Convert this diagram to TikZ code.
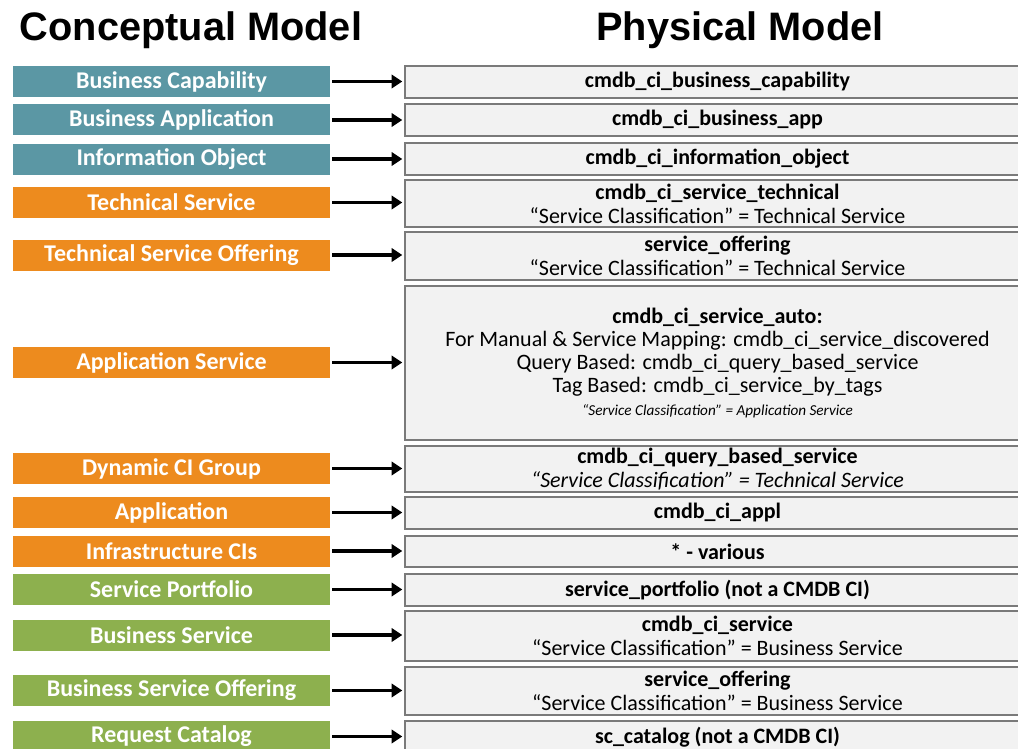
\documentclass[tikz,border=0pt]{standalone}
\usepackage{fontspec}
\setmainfont{Carlito}
\newfontfamily\headfont{Liberation Sans}
\usetikzlibrary{arrows.meta}

\definecolor{capteal}{RGB}{91,151,164}
\definecolor{svcorange}{RGB}{237,139,30}
\definecolor{bizgreen}{RGB}{141,176,78}
\definecolor{tablegray}{RGB}{242,242,242}
\definecolor{edgegray}{RGB}{122,122,122}

\tikzset{
  heading/.style={font=\headfont\bfseries\fontsize{29.8}{32}\selectfont, anchor=base},
  concept/.style={fill=#1, text=white, minimum width=237.75pt, minimum height=23.25pt,
    inner sep=0pt, font=\bfseries\fontsize{18}{20}\selectfont},
  physical/.style={fill=tablegray, draw=edgegray, line width=1.1pt, minimum width=468.75pt,
    minimum height=#1, inner sep=0pt, align=center, font=\fontsize{16.5}{18}\selectfont},
  link/.style={line width=2.8pt, -{Triangle[length=8pt,width=10pt]}, shorten >=1.5pt, shorten <=1.5pt}
}

\begin{document}
\begin{tikzpicture}[x=0.75pt, y=-0.75pt]
\useasboundingbox (0,0) rectangle (1018,749);

% headings
\node[heading] (conhead) at (191,41) {Conceptual Model};
\node[heading] (phyhead) at (740,41) {Physical Model};

% conceptual model
\node[concept=capteal] (c1) at (171.5,81.5) {Business Capability};
\node[concept=capteal] (c2) at (171.5,120) {Business Application};
\node[concept=capteal] (c3) at (171.5,159) {Information Object};
\node[concept=svcorange] (c4) at (171.5,202.5) {Technical Service};
\node[concept=svcorange] (c5) at (171.5,255) {Technical Service Offering};
\node[concept=svcorange] (c6) at (171.5,362.5) {Application Service};
\node[concept=svcorange] (c7) at (171.5,468.5) {Dynamic CI Group};
\node[concept=svcorange] (c8) at (171.5,512.5) {Application};
\node[concept=svcorange] (c9) at (171.5,551) {Infrastructure CIs};
\node[concept=bizgreen] (c10) at (171.5,589.5) {Service Portfolio};
\node[concept=bizgreen] (c11) at (171.5,635) {Business Service};
\node[concept=bizgreen] (c12) at (171.5,690.5) {Business Service Offering};
\node[concept=bizgreen] (c13) at (171.5,736.5) {Request Catalog};

% physical model
\node[physical=24pt] (p1) at (717.5,82) {\textbf{cmdb\_ci\_business\_capability}};
\node[physical=24pt] (p2) at (717.5,120) {\textbf{cmdb\_ci\_business\_app}};
\node[physical=24pt] (p3) at (717.5,159) {\textbf{cmdb\_ci\_information\_object}};
\node[physical=35.25pt] (p4) at (717.5,203.5) {\textbf{cmdb\_ci\_service\_technical}\\
  “Service Classification” = Technical Service};
\node[physical=36pt] (p5) at (717.5,256) {\textbf{service\_offering}\\
  “Service Classification” = Technical Service};
\node[physical=115.5pt, font=\fontsize{16.5}{17.25}\selectfont] (p6) at (717.5,363) {\textbf{cmdb\_ci\_service\_auto:}\\
  For Manual \& Service Mapping: cmdb\_ci\_service\_discovered\\
  Query Based: cmdb\_ci\_query\_based\_service\\
  Tag Based: cmdb\_ci\_service\_by\_tags\\
  {\itshape\fontsize{11.4}{16.5}\selectfont “Service Classification” = Application Service}};
\node[physical=34.5pt] (p7) at (717.5,469) {\textbf{cmdb\_ci\_query\_based\_service}\\
  \textit{“Service Classification” = Technical Service}};
\node[physical=24pt] (p8) at (717.5,513) {\textbf{cmdb\_ci\_appl}};
\node[physical=23.25pt] (p9) at (717.5,551.5) {\textbf{* - various}};
\node[physical=24pt] (p10) at (717.5,590) {\textbf{service\_portfolio (not a CMDB CI)}};
\node[physical=37.5pt] (p11) at (717.5,636) {\textbf{cmdb\_ci\_service}\\
  “Service Classification” = Business Service};
\node[physical=36pt] (p12) at (717.5,691) {\textbf{service\_offering}\\
  “Service Classification” = Business Service};
\node[physical=24pt] (p13) at (717.5,737) {\textbf{sc\_catalog (not a CMDB CI)}};

% mapping arrows
\foreach \i in {1,...,13}
  \draw[link] (c\i.east) -- (c\i.east -| p\i.west);
\end{tikzpicture}
\end{document}
